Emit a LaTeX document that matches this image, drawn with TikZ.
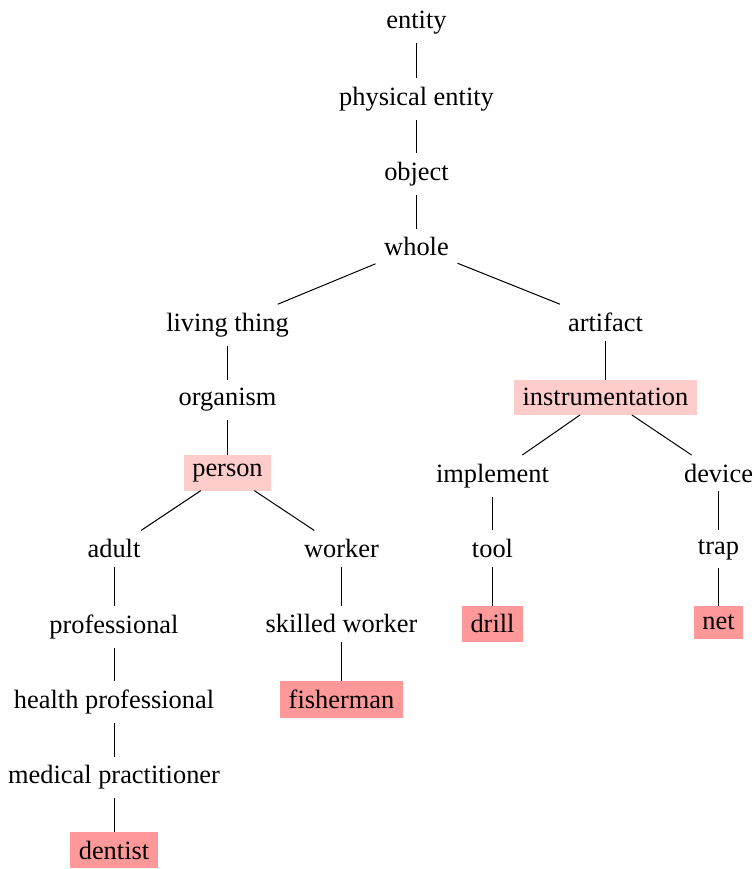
\documentclass[tikz,border=0pt]{standalone}
\usepackage{fontspec}
\setmainfont{Liberation Serif}
\definecolor{lightpink}{RGB}{255,204,204}
\definecolor{darkpink}{RGB}{255,153,153}
\begin{document}
\begin{tikzpicture}[x=1pt,y=-1pt,
  every node/.style={anchor=north,inner sep=8.8pt,outer sep=0pt,font=\fontsize{26.4}{31.7}\selectfont},
  hl/.style={fill=lightpink},
  leaf/.style={fill=darkpink},
  edge/.style={draw=black,line width=1pt}]
\useasboundingbox (0,0) rectangle (754,869);
% levels
\node (entity) at (416.5,2.6) {entity};
\node (physical) at (416.5,78.0) {physical entity};
\node (object) at (416.5,153.4) {object};
\node (whole) at (416.5,228.8) {whole};
\node (living) at (227.5,304.2) {living thing};
\node (artifact) at (605.5,304.2) {artifact};
\node (organism) at (227.5,379.6) {organism};
\node[hl] (instr) at (605.5,379.6) {instrumentation};
\node[hl] (person) at (227.5,455) {person};
\node (implement) at (492.5,455) {implement};
\node (device) at (718.5,455) {device};
\node (adult) at (114,530.4) {adult};
\node (worker) at (341.5,530.4) {worker};
\node (tool) at (492.5,530.4) {tool};
\node (trap) at (718.5,530.4) {trap};
\node (professional) at (114,605.8) {professional};
\node (skilled) at (341.5,605.8) {skilled worker};
\node[leaf] (drill) at (492.5,605.8) {drill};
\node[leaf] (net) at (718.5,605.8) {net};
\node (health) at (114,681.2) {health professional};
\node[leaf] (fisherman) at (341.5,681.2) {fisherman};
\node (medical) at (114,756.6) {medical practitioner};
\node[leaf] (dentist) at (114,832) {dentist};
% edges
\draw[edge] (entity) -- (physical);
\draw[edge] (physical) -- (object);
\draw[edge] (object) -- (whole);
\draw[edge] (whole) -- (living);
\draw[edge] (whole) -- (artifact);
\draw[edge] (living) -- (organism);
\draw[edge] (organism) -- (person);
\draw[edge] (artifact) -- (instr);
\draw[edge] (instr) -- (implement);
\draw[edge] (instr) -- (device);
\draw[edge] (person) -- (adult);
\draw[edge] (person) -- (worker);
\draw[edge] (implement) -- (tool);
\draw[edge] (device) -- (trap);
\draw[edge] (adult) -- (professional);
\draw[edge] (worker) -- (skilled);
\draw[edge] (tool) -- (drill);
\draw[edge] (trap) -- (net);
\draw[edge] (professional) -- (health);
\draw[edge] (skilled) -- (fisherman);
\draw[edge] (health) -- (medical);
\draw[edge] (medical) -- (dentist);
\end{tikzpicture}
\end{document}
